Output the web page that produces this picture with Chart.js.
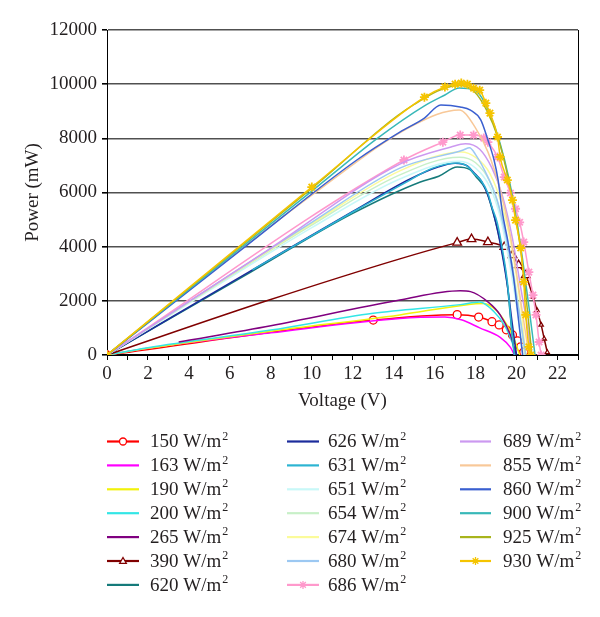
<!DOCTYPE html>
<html>
<head>
<meta charset="utf-8">
<script src="https://cdn.jsdelivr.net/npm/chart.js@4.4.0/dist/chart.umd.min.js"></script>
<style>
  body { margin: 0; background: #fff; }
  #wrap { width: 600px; height: 617px; }
</style>
</head>
<body>
<div id="wrap"><canvas id="pvChart" width="600" height="617"></canvas></div>
<script>
// irradiance of each curve (W/m2)
const irradiance = [150, 163, 190, 200, 265, 390, 620, 626, 631, 651, 654, 674, 680, 686, 689, 855, 860, 900, 925, 930];

// P-V points: [voltage (V), power (mW)]
const s150 = [[0,0],[13,1290],[17.1,1490],[18.15,1400],[18.8,1230],[19.15,1110],[19.5,930],[19.8,740],[20.05,520],[20.2,300],[20.35,110]];
const s163 = [[0,0],[2,250],[8,820],[14.3,1350],[16.5,1400],[17.3,1300],[18.2,1000],[19.2,650],[19.7,280],[19.9,0]];
const s190 = [[0,0],[2,250],[8,880],[14.3,1480],[17.5,1850],[18.4,1900],[19,1650],[19.5,1150],[19.9,550],[20.15,0]];
const s200 = [[0,0],[2,270],[8,920],[13,1540],[17.25,1860],[18.2,1960],[18.9,1600],[19.4,1110],[19.7,630],[19.95,110],[20,0]];
const s265 = [[3.5,480],[8,1080],[14.3,2030],[17.25,2370],[17.75,2340],[18.6,1960],[19.2,1480],[19.7,740],[19.95,110],[20,0]];
const s390 = [[0,0],[7.8,2000],[14.3,3550],[17.1,4150],[17.8,4280],[18.6,4170],[19.4,3990],[19.8,3690],[20.1,3320],[20.45,2950],[20.8,2150],[21,1650],[21.2,1110],[21.35,600],[21.5,100]];
const s620 = [[0,0],[7,3050],[12,5230],[15.3,6390],[16.2,6600],[17.1,6940],[17.7,6850],[18,6600],[18.5,6100],[18.8,5400],[19.05,4700],[19.3,3800],[19.55,2600],[19.7,1400],[19.85,300],[19.9,0]];
const s626 = [[0,0],[7,3100],[12,5300],[14.8,6500],[16.2,6950],[17,7080],[17.6,6980],[17.9,6750],[18.3,6400],[18.6,5900],[18.85,5300],[19.1,4500],[19.35,3500],[19.6,2300],[19.8,1100],[20,0]];
const s631 = [[7.1,3140],[12,5280],[14.8,6460],[15.9,6900],[17.1,7090],[17.65,6940],[17.9,6720],[18.25,6460],[18.6,5980],[18.8,5460],[19.05,4900],[19.3,3950],[19.55,2700],[19.7,1480],[19.85,260],[19.9,0]];
const s651 = [[0,0],[10,4700],[14.3,6500],[17.2,7150],[18,6900],[18.7,6200],[19.2,5100],[19.6,3600],[20,1800],[20.3,0]];
const s654 = [[0,0],[10,4800],[14.3,6650],[17.2,7300],[18,7100],[18.7,6400],[19.2,5300],[19.7,3700],[20.1,1800],[20.4,0]];
const s674 = [[0,0],[10,4850],[14.3,6800],[17.3,7500],[18,7300],[18.7,6700],[19.3,5500],[19.8,3800],[20.2,1800],[20.45,0]];
const s680 = [[0,0],[10,4900],[14.3,6900],[17.4,7570],[17.7,7650],[18,7400],[18.6,6570],[19.05,5720],[19.5,4300],[19.9,2600],[20.25,1000],[20.45,0]];
const s686 = [[0,0],[14.5,7200],[16.4,7860],[17.25,8120],[17.9,8120],[18.4,8010],[18.6,7860],[19.07,7310],[19.4,6570],[19.7,5980],[19.95,5400],[20.15,4900],[20.35,4170],[20.6,3060],[20.8,2210],[20.95,1480],[21.1,480],[21.2,0]];
const s689 = [[0,0],[8,3950],[14.3,7050],[16.8,7680],[17.5,7800],[18.2,7600],[18.8,6900],[19.3,5900],[19.8,4300],[20.2,2500],[20.6,700],[20.7,0]];
const s855 = [[0,0],[10,5900],[15,8500],[17.2,9050],[18,8380],[18.6,7500],[19.2,6100],[19.7,4400],[20.1,2500],[20.5,500],[20.6,0]];
const s860 = [[0,0],[6.75,4000],[12.2,7200],[14.3,8230],[15.5,8750],[16.3,9230],[17.25,9160],[17.75,9040],[18.25,8680],[18.6,7940],[18.9,7200],[19.1,6460],[19.3,5300],[19.6,4100],[19.85,2900],[20.05,1600],[20.25,300],[20.3,0]];
const s900 = [[0,0],[10,6050],[13.2,8000],[15.5,9200],[16.5,9600],[17.2,9860],[17.9,9800],[18.3,9500],[18.8,8700],[19.2,7800],[19.6,6600],[20,5000],[20.3,3500],[20.6,1800],[20.85,300],[20.9,0]];
const s925 = [[0,0],[10,6150],[15,9250],[17.2,9950],[17.9,9750],[18.5,9100],[19.1,8000],[19.6,6500],[20,4900],[20.3,3300],[20.55,1500],[20.75,0]];
const s930 = [[0,0],[10,6200],[15.5,9520],[16.5,9900],[17,10000],[17.3,10040],[17.6,10000],[17.9,9850],[18.2,9780],[18.5,9300],[18.7,8930],[19.07,8050],[19.2,7310],[19.55,6460],[19.8,5720],[19.95,4980],[20.2,3950],[20.35,2700],[20.45,1480],[20.6,300],[20.7,0]];

const curves = [s150, s163, s190, s200, s265, s390, s620, s626, s631, s651, s654, s674, s680, s686, s689, s855, s860, s900, s925, s930];

// axis tick labels
const voltageTicks = [0, 2, 4, 6, 8, 10, 12, 14, 16, 18, 20, 22];
const powerTicks = [0, 2000, 4000, 6000, 8000, 10000, 12000];

// Excel-ish palette, one per curve
const colors = ['#ff0000', '#ff00ff', '#f2f20a', '#33e6e6', '#800080', '#800000', '#157a7a', '#1c2c9c',
  '#2cb4d2', '#c8f8f8', '#c8f0c8', '#fbfb9a', '#9cc8f2', '#ff99cc', '#cc99f0', '#f8c898',
  '#3a5fd0', '#38b8b8', '#a8b41c', '#f5c400'];
const markers = { 150: 'circle', 390: 'triangle', 686: 'star', 930: 'star' };

const serif = '"Liberation Serif", "DejaVu Serif", serif';
const ink = '#231f20';

function markerSize(style, c) {
  if (!style) return 0;
  if (style === 'triangle') {
    // the 390 curve only carries triangles near its knee, small ticks on the tail
    if (c.raw.x < 16) return 0;
    return c.raw.x > 20.6 ? 2.5 : 5;
  }
  return style === 'star' ? 4.5 : 4;
}

const datasets = curves.map((pts, i) => {
  const style = markers[irradiance[i]];
  return {
    label: irradiance[i] + ' W/m²',
    data: pts.map(p => ({ x: p[0], y: p[1] })),
    borderColor: colors[i],
    backgroundColor: colors[i],
    borderWidth: 1.5,
    cubicInterpolationMode: 'monotone',
    pointStyle: style || 'circle',
    pointRadius: c => markerSize(style, c),
    pointBorderWidth: style === 'star' ? 1.8 : 1.3,
    pointBackgroundColor: style === 'star' ? colors[i] : '#fff',
    pointBorderColor: colors[i],
    order: curves.length - i
  };
});

function drawMarker(ctx, style, x, y, r) {
  ctx.beginPath();
  if (style === 'circle') {
    ctx.arc(x, y, r, 0, Math.PI * 2);
    ctx.fill();
  } else if (style === 'triangle') {
    ctx.moveTo(x, y - r);
    ctx.lineTo(x + r * 0.95, y + r * 0.65);
    ctx.lineTo(x - r * 0.95, y + r * 0.65);
    ctx.closePath();
    ctx.fill();
  } else {
    for (let k = 0; k < 4; k++) {
      const a = k * Math.PI / 4;
      ctx.moveTo(x - Math.cos(a) * r, y - Math.sin(a) * r);
      ctx.lineTo(x + Math.cos(a) * r, y + Math.sin(a) * r);
    }
  }
  ctx.stroke();
}

// three-column legend below the plot, filled column by column
const columnLegend = {
  id: 'columnLegend',
  afterDraw(chart) {
    const ctx = chart.ctx;
    const cols = [{ x0: 107, x1: 139, tx: 150 }, { x0: 287, x1: 319, tx: 328 }, { x0: 460, x1: 491, tx: 503 }];
    ctx.save();
    chart.data.datasets.forEach((ds, i) => {
      const c = cols[Math.floor(i / 7)];
      const y = 441.5 + (i % 7) * 23.9;
      ctx.strokeStyle = ds.borderColor;
      ctx.lineWidth = 2.2;
      ctx.beginPath();
      ctx.moveTo(c.x0, y);
      ctx.lineTo(c.x1, y);
      ctx.stroke();
      const style = markers[irradiance[i]];
      if (style) {
        ctx.lineWidth = 1.3;
        ctx.fillStyle = '#fff';
        drawMarker(ctx, style, (c.x0 + c.x1) / 2, y, style === 'star' ? 4 : 3.5);
      }
      ctx.fillStyle = ink;
      ctx.textBaseline = 'middle';
      ctx.font = '19px ' + serif;
      const txt = irradiance[i] + ' W/m';
      ctx.fillText(txt, c.tx, y + 1);
      const w = ctx.measureText(txt).width;
      ctx.font = '12px ' + serif;
      ctx.fillText('2', c.tx + w + 1, y - 5);
    });
    ctx.restore();
  }
};

const ctx = document.getElementById('pvChart').getContext('2d');
new Chart(ctx, {
  type: 'line',
  data: { datasets: datasets },
  plugins: [columnLegend],
  options: {
    responsive: false,
    animation: false,
    layout: { padding: { left: 0, right: 22, top: 30, bottom: 202 } },
    plugins: {
      legend: { display: false },
      tooltip: { enabled: false }
    },
    scales: {
      x: {
        type: 'linear',
        min: 0,
        max: 23,
        afterFit: scale => { scale.height = 60; },
        border: { color: '#000', width: 1 },
        grid: {
          drawOnChartArea: true,
          color: c => (c.tick && c.tick.value === 23 ? '#000' : 'rgba(0,0,0,0)'),
          tickColor: '#000',
          tickLength: 5,
          lineWidth: 1
        },
        ticks: {
          stepSize: 1,
          autoSkip: false,
          maxRotation: 0,
          padding: 3,
          color: ink,
          font: { family: serif, size: 19 },
          callback: v => (voltageTicks.includes(v) ? String(v) : '')
        },
        title: {
          display: true,
          text: 'Voltage (V)',
          color: ink,
          font: { family: serif, size: 19 },
          padding: { top: 0, bottom: 3 }
        }
      },
      y: {
        min: 0,
        max: 12000,
        afterFit: scale => { scale.width = 107; },
        border: { color: '#000', width: 1 },
        grid: {
          color: c => (c.tick && c.tick.value === 0 ? '#000' : '#505050'),
          lineWidth: 1.6,
          tickColor: '#000',
          tickLength: 5
        },
        ticks: {
          stepSize: 2000,
          padding: 5,
          color: ink,
          font: { family: serif, size: 19 },
          callback: v => (powerTicks.includes(v) ? String(v) : '')
        },
        title: {
          display: true,
          text: 'Power (mW)',
          color: ink,
          font: { family: serif, size: 19 },
          padding: { top: 22, bottom: 0 }
        }
      }
    }
  }
});
</script>
</body>
</html>
